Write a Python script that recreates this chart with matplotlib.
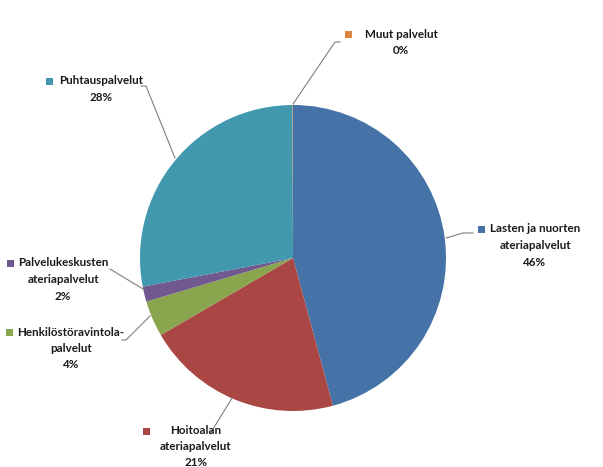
import matplotlib
matplotlib.use("Agg")
import matplotlib.pyplot as plt

# ─── data ─────────────────────────────────────────────────────
names  = [["Lasten ja nuorten", "ateriapalvelut"], ["Hoitoalan", "ateriapalvelut"],
          ["Henkilöstöravintola-", "palvelut"], ["Palvelukeskusten", "ateriapalvelut"],
          ["Puhtauspalvelut"], ["Muut palvelut"]]
values = [45.8, 20.8, 3.8, 1.6, 27.95, 0.05]
pcts   = ["46%", "21%", "4%", "2%", "28%", "0%"]
colors = ["#4572A7", "#AA4643", "#89A54E", "#71588F", "#4198AF", "#DB843D"]

# ─── figure (axes in pixel units, y up) ───────────────────────
W, H = 603, 467
fig = plt.figure(figsize=(W / 100, H / 100), dpi=100)
ax = fig.add_axes([0, 0, 1, 1])

cx, cy, r = 293, H - 258, 153
ax.pie(values, colors=colors, startangle=90, counterclock=False,
       center=(cx, cy), radius=r, frame=True,
       wedgeprops=dict(linewidth=0))
ax.set_xlim(0, W)
ax.set_ylim(0, H)
ax.set_aspect("equal")
ax.axis("off")

# label positions: text centre x, first line centre y, marker x, line step
label_pos = [(535, 229, 481, 16.5), (196, 431, 146, 15.5), (71, 332, 9, 16.5),
             (63, 263, 10, 16.5), (101, 81, 49, 16.5), (401, 34, 348, 16.5)]
# leader lines (pixel coords from top)
leaders = [[(446, 238), (463, 233), (473, 233)],
           [(232, 398), (210, 434)],
           [(150, 316), (126, 340), (122, 340)],
           [(143, 289), (110, 269)],
           [(175, 158), (146, 86), (141, 86)],
           [(293, 104), (335, 42), (340, 42)]]

font = dict(family=["Lato", "DejaVu Sans"], fontsize=8.4, fontweight="bold",
            color="#1a1a1a")
for name, pct, col, (tx, ty, mx, step), pts in zip(names, pcts, colors,
                                                    label_pos, leaders):
    lines = name + [pct]
    for k, line in enumerate(lines):
        ax.text(tx, H - (ty + step * k), line, ha="center", va="center", **font)
    ax.add_patch(plt.Rectangle((mx - 3.5, H - ty - 3.5), 7, 7,
                               facecolor=col, edgecolor="none"))
    ax.plot([p[0] for p in pts], [H - p[1] for p in pts],
            color="#7f7f7f", lw=0.8)

fig.savefig("out.png", dpi=100)
